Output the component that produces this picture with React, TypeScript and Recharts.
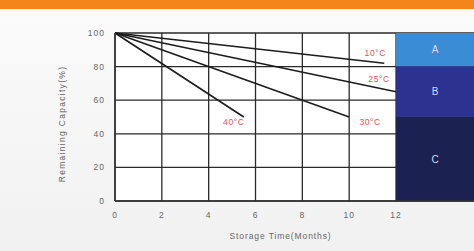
import React from "react";
import {
  LineChart,
  Line,
  XAxis,
  YAxis,
  CartesianGrid,
  ReferenceArea,
  Label,
} from "recharts";

// capacity curves: [month, remaining %]
const curve10C = [
  { m: 0, v: 100 },
  { m: 11.5, v: 82 },
];
const curve25C = [
  { m: 0, v: 100 },
  { m: 12, v: 65 },
];
const curve30C = [
  { m: 0, v: 100 },
  { m: 10, v: 50 },
];
const curve40C = [
  { m: 0, v: 100 },
  { m: 5.5, v: 50 },
];

const monthTicks = [0, 2, 4, 6, 8, 10, 12];
const capacityTicks = [0, 20, 40, 60, 80, 100];

// grade bands on the right side
const bandNames = ["A", "B", "C"];
const bandTop = [100, 80, 50];
const bandBottom = [80, 50, 0];
const bandStart = 12;
const monthMax = 15.33;

const bandColors = ["#3a8cd5", "#2d3190", "#1b2251"];
const labelRed = "#dc5058";

const series = [
  { name: "10°C", data: curve10C, dx: -9, dy: -10 },
  { name: "25°C", data: curve25C, dx: -17, dy: -13 },
  { name: "30°C", data: curve30C, dx: 21, dy: 5 },
  { name: "40°C", data: curve40C, dx: -10, dy: 5 },
];

function endLabel(text: string, lastIndex: number, dx: number, dy: number) {
  return (props: any) => {
    if (props.index !== lastIndex) return null;
    return (
      <text
        x={props.x + dx}
        y={props.y + dy}
        fill={labelRed}
        fontSize={8.5}
        letterSpacing={0.6}
        textAnchor="middle"
        dominantBaseline="central"
      >
        {text}
      </text>
    );
  };
}

export default function App() {
  return (
    <div
      style={{
        position: "fixed",
        left: 0,
        top: 0,
        width: 474,
        height: 251,
        background: "linear-gradient(#fbfbfb, #f1f1f1)",
        fontFamily: "'Liberation Sans', Arial, sans-serif",
        overflow: "hidden",
      }}
    >
      <div
        style={{
          position: "absolute",
          left: 0,
          top: 0,
          width: 474,
          height: 9,
          background: "#f3861b",
        }}
      />
      <LineChart
        width={474}
        height={251}
        margin={{ top: 33, right: 0, bottom: 5, left: 50 }}
      >
        <CartesianGrid
          stroke="#2a2a2a"
          strokeWidth={1.3}
          fill="#ffffff"
          horizontalValues={capacityTicks}
          verticalValues={monthTicks}
        />
        <XAxis
          dataKey="m"
          type="number"
          domain={[0, monthMax]}
          ticks={monthTicks}
          allowDuplicatedCategory={false}
          height={45}
          tickLine={false}
          axisLine={{ stroke: "#333", strokeWidth: 1.5 }}
          tickMargin={5}
          tick={{ fill: "#666", fontSize: 8.5, letterSpacing: 1 }}
        >
          <Label
            value="Storage Time(Months)"
            position="insideBottom"
            offset={7}
            dx={-14}
            fill="#666"
            fontSize={8.5}
            letterSpacing={0.9}
          />
        </XAxis>
        <YAxis
          type="number"
          domain={[0, 100]}
          ticks={capacityTicks}
          width={65}
          tickLine={false}
          axisLine={{ stroke: "#333", strokeWidth: 1.5 }}
          tickMargin={4}
          tick={{ fill: "#666", fontSize: 8.5, letterSpacing: 1 }}
          label={(p: any) => {
            const vb = p.viewBox;
            const cx = vb.x + 12;
            const cy = vb.y + vb.height / 2 + 7;
            return (
              <text
                x={cx}
                y={cy}
                transform={`rotate(-90, ${cx}, ${cy})`}
                textAnchor="middle"
                dominantBaseline="central"
                fill="#666"
                fontSize={8.5}
                letterSpacing={1.3}
              >
                Remaining Capacity(%)
              </text>
            );
          }}
        />
        {bandNames.map((b, i) => (
          <ReferenceArea
            key={b}
            x1={bandStart}
            x2={monthMax}
            y1={bandBottom[i]}
            y2={bandTop[i]}
            fill={bandColors[i]}
            fillOpacity={1}
            stroke="none"
            ifOverflow="visible"
          >
            <Label
              value={b}
              position="center"
              fill="#d8dcf0"
              fontSize={10}
            />
          </ReferenceArea>
        ))}
        {series.map((s) => (
          <Line
            key={s.name}
            data={s.data}
            dataKey="v"
            type="linear"
            stroke="#1c1c1c"
            strokeWidth={1.6}
            dot={false}
            isAnimationActive={false}
            label={endLabel(s.name, s.data.length - 1, s.dx, s.dy)}
          />
        ))}
      </LineChart>
    </div>
  );
}
